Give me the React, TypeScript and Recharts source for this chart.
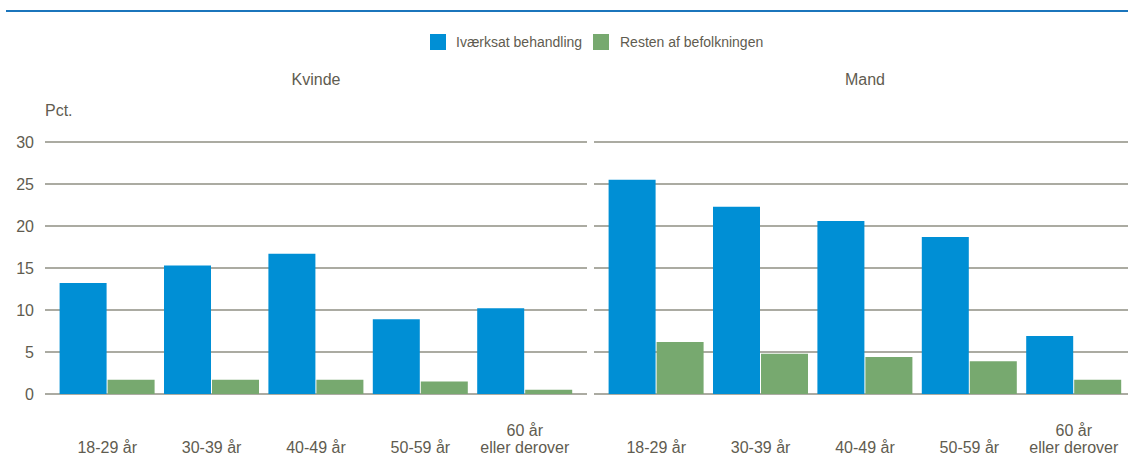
import { BarChart, Bar, XAxis, YAxis, CartesianGrid } from "recharts";

const ageGroups = ["18-29 år", "30-39 år", "40-49 år", "50-59 år", "60 år\neller derover"];
const kvindeBehandling = [13.2, 15.3, 16.7, 8.9, 10.2];
const kvindeBefolkning = [1.7, 1.7, 1.7, 1.5, 0.5];
const mandBehandling = [25.5, 22.3, 20.6, 18.7, 6.9];
const mandBefolkning = [6.2, 4.8, 4.4, 3.9, 1.7];
const yTicks = [0, 5, 10, 15, 20, 25, 30];

const BLUE = "#008fd5";
const GREEN = "#77a96f";
const TEXT = "#5f5c50";
const GRID = "#8f8f83";
const FONT = "'Liberation Sans', Arial, sans-serif";

const build = (a: number[], b: number[]) =>
  ageGroups.map((g, i) => ({ group: g, behandling: a[i], befolkning: b[i] }));

const kvindeData = build(kvindeBehandling, kvindeBefolkning);
const mandData = build(mandBehandling, mandBefolkning);

function AgeTick({ x, y, payload }: any) {
  const lines = String(payload.value).split("\n");
  return (
    <text x={x} y={y} textAnchor="middle" fill={TEXT} fontSize={16} fontFamily={FONT}>
      {lines.map((l, i) => (
        <tspan key={i} x={x} y={y + 51 - (lines.length - 1 - i) * 17}>
          {l}
        </tspan>
      ))}
    </text>
  );
}

function Panel({ data, showY }: { data: any[]; showY: boolean }) {
  return (
    <BarChart
      width={showY ? 587 : 542}
      height={456}
      data={data}
      margin={{ top: 142, right: 0, bottom: 0, left: 0 }}
      barCategoryGap={4.6}
      barGap={1}
    >
      <CartesianGrid vertical={false} stroke={GRID} strokeWidth={1.5} />
      <XAxis
        dataKey="group"
        height={62}
        axisLine={false}
        tickLine={false}
        interval={0}
        padding={{ left: 10, right: 10 }}
        tick={<AgeTick />}
      />
      <YAxis
        hide={!showY}
        width={45}
        domain={[0, 30]}
        ticks={yTicks}
        axisLine={false}
        tickLine={false}
        tickMargin={5}
        tick={{ fill: TEXT, fontSize: 16, fontFamily: FONT }}
      />
      <Bar dataKey="behandling" name="Iværksat behandling" fill={BLUE} isAnimationActive={false} />
      <Bar dataKey="befolkning" name="Resten af befolkningen" fill={GREEN} isAnimationActive={false} />
    </BarChart>
  );
}

export default function App() {
  const abs = (left: number, top: number): React.CSSProperties => ({ position: "absolute", left, top });
  return (
    <div
      style={{
        position: "fixed",
        left: 0,
        top: 0,
        width: 1128,
        height: 456,
        overflow: "hidden",
        background: "#fff",
        fontFamily: FONT,
        color: TEXT,
      }}
    >
      <div style={{ ...abs(6, 10), width: 1122, height: 2, background: "#1b75bc" }} />

      {/* legend */}
      <div style={{ ...abs(430, 34), width: 16, height: 16, background: BLUE }} />
      <div style={{ ...abs(456, 34), fontSize: 14, lineHeight: "16px" }}>Iværksat behandling</div>
      <div style={{ ...abs(593, 34), width: 16, height: 16, background: GREEN }} />
      <div style={{ ...abs(620, 34), fontSize: 14, lineHeight: "16px" }}>Resten af befolkningen</div>

      {/* panel titles */}
      <div style={{ ...abs(45, 70), width: 542, textAlign: "center", fontSize: 16, lineHeight: "20px" }}>Kvinde</div>
      <div style={{ ...abs(594, 70), width: 542, textAlign: "center", fontSize: 16, lineHeight: "20px" }}>Mand</div>
      <div style={{ ...abs(45, 101), fontSize: 16, lineHeight: "20px" }}>Pct.</div>

      <div style={abs(0, 0)}>
        <Panel data={kvindeData} showY />
      </div>
      <div style={abs(594, 0)}>
        <Panel data={mandData} showY={false} />
      </div>
    </div>
  );
}
